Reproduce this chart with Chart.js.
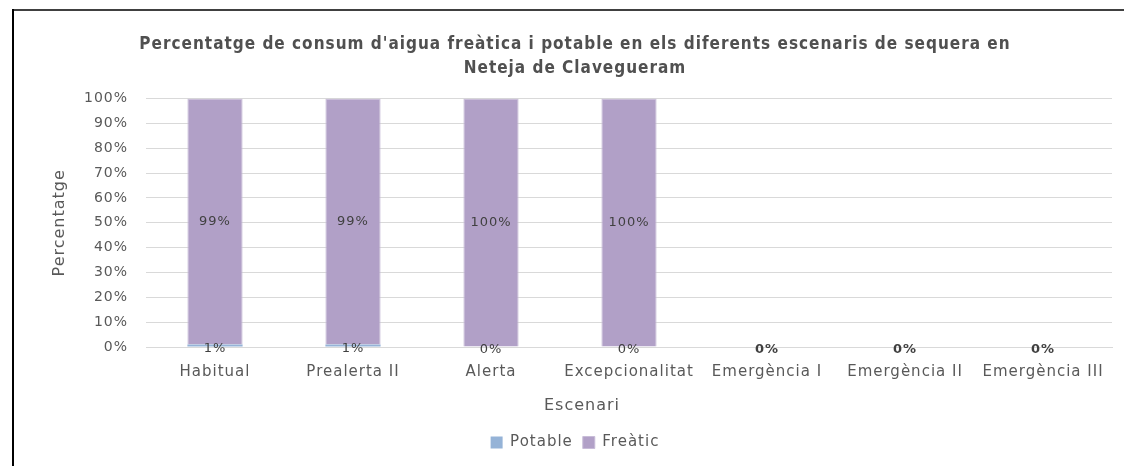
<!DOCTYPE html>
<html><head><meta charset="utf-8">
<script src="https://cdn.jsdelivr.net/npm/chart.js@4/dist/chart.umd.min.js"></script>
<style>
html,body{margin:0;padding:0;background:#fff;overflow:hidden;width:1124px;height:466px;position:relative;}
#topline{position:absolute;left:12px;top:9px;width:1112px;height:2px;background:#404040;}
#leftline{position:absolute;left:12px;top:9px;width:2px;height:457px;background:#000;}
#wrap{position:absolute;left:14px;top:11px;width:1110px;height:455px;overflow:hidden;}
#inner{position:absolute;left:0;top:0;width:1122px;height:455px;}
</style></head>
<body>
<div id="topline"></div>
<div id="leftline"></div>
<div id="wrap"><div id="inner"><canvas id="c"></canvas></div></div>
<script>
const categories = ["Habitual","Prealerta II","Alerta","Excepcionalitat","Emergència I","Emergència II","Emergència III"];
const potable = [1,1,0,0,0,0,0];
const freatic = [99,99,100,100,0,0,0];
const yTicks = [0,10,20,30,40,50,60,70,80,90,100];
const xAxisTitle = 'Escenari';
const yAxisTitle = 'Percentatge';

const TXT = '#595959';
const FONT = "'DejaVu Sans', sans-serif";

const spacingPlugin = {
  id:'spacing',
  beforeLayout(chart){ chart.ctx.letterSpacing = '1px'; },
  beforeDraw(chart){ chart.ctx.letterSpacing = '1px'; }
};

const labelPlugin = {
  id:'segLabels',
  afterDatasetsDraw(chart){
    const ctx = chart.ctx;
    ctx.save();
    ctx.letterSpacing = '1px';
    ctx.fillStyle = '#404040';
    ctx.textAlign = 'center';
    ctx.textBaseline = 'middle';
    const sets = chart.data.datasets;
    sets.forEach((ds,di)=>{
      const meta = chart.getDatasetMeta(di);
      meta.data.forEach((el,i)=>{
        const v = ds.data[i];
        const total = sets.reduce((s,d)=>s + d.data[i], 0);
        if (total === 0 && di > 0) return;
        ctx.font = (total === 0 ? "bold " : "") + "13px " + FONT;
        const y = (el.y + el.base)/2 + (v<5 ? 3 : 0);
        ctx.fillText(v + '%', el.x, y);
      });
    });
    ctx.restore();
  },
  afterDraw(chart){
    const ctx = chart.ctx;
    const xs = chart.scales.x;
    ctx.save();
    ctx.letterSpacing = '1px';
    ctx.font = "16px " + FONT;
    ctx.fillStyle = TXT;
    ctx.textAlign = 'center';
    ctx.textBaseline = 'middle';
    ctx.fillText(xAxisTitle, chart.width/2 + 7, xs.bottom - 19);
    ctx.restore();
  }
};

new Chart(document.getElementById('c'), {
  type:'bar',
  data:{
    labels:categories,
    datasets:[
      {label:'Potable', data:potable, backgroundColor:'#95B3D7', borderWidth:0},
      {label:'Freàtic', data:freatic, backgroundColor:'#B1A0C7', borderColor:'#C8BCD8', borderWidth:1}
    ]
  },
  options:{
    responsive:true, maintainAspectRatio:false, animation:false,
    layout:{padding:{left:24,right:24,top:0,bottom:6}},
    datasets:{bar:{categoryPercentage:1, barPercentage:0.4}},
    plugins:{
      title:{display:true, text:["Percentatge de consum d'aigua freàtica i potable en els diferents escenaris de sequera en","Neteja de Clavegueram"],
        color:'#505050', font:{family:"'Liberation Sans Narrow','DejaVu Sans Condensed',sans-serif", size:17, weight:'bold', lineHeight:1.4},
        padding:{top:22,bottom:18}},
      legend:{position:'bottom', labels:{color:TXT, font:{family:FONT,size:15}, boxWidth:12, boxHeight:12, padding:10}},
      tooltip:{enabled:false}
    },
    scales:{
      x:{stacked:true, grid:{display:false, drawTicks:false}, border:{color:'#D9D9D9'},
        ticks:{color:TXT, font:{family:FONT,size:15}, padding:16, maxRotation:0, autoSkip:false},
        afterFit(s){ s.height = 78; }},
      y:{stacked:true, min:0, max:100, afterBuildTicks(s){ s.ticks = yTicks.map(v=>({value:v})); },
        grid:{color:'#D9D9D9', drawTicks:false}, border:{display:false},
        ticks:{color:TXT, font:{family:FONT,size:14}, padding:18, callback:v=>v+'%'},
        title:{display:true, text:yAxisTitle, color:TXT, font:{family:FONT,size:16}, padding:{top:12,bottom:4}},
        afterFit(s){ s.width = 108; }}
    }
  },
  plugins:[spacingPlugin, labelPlugin]
});
</script>
</body></html>
